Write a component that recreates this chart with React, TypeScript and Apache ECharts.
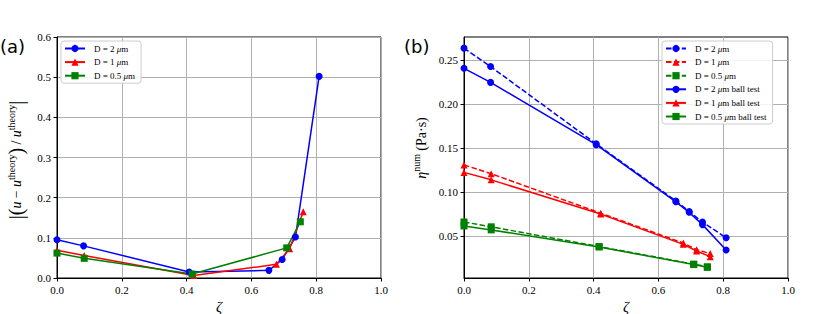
import React, { useEffect, useRef } from 'react';
import * as echarts from 'echarts';

// ---------- data ----------
const xTicks = [0, 0.2, 0.4, 0.6, 0.8, 1.0];
const yTicksA = [0, 0.1, 0.2, 0.3, 0.4, 0.5, 0.6];
const yTicksB = [0.05, 0.1, 0.15, 0.2, 0.25];

const zetaD2 = [0, 0.082, 0.408, 0.654, 0.695, 0.736, 0.809];
const zetaD1 = [0, 0.084, 0.422, 0.677, 0.718, 0.76];
const zetaD05 = [0, 0.084, 0.417, 0.709, 0.751];

// panel (a): relative error
const errD2 = [0.095, 0.08, 0.015, 0.019, 0.046, 0.102, 0.502];
const errD1 = [0.069, 0.056, 0.006, 0.034, 0.073, 0.165];
const errD05 = [0.062, 0.049, 0.01, 0.075, 0.14];

// panel (b): viscosity
const etaD2 = [0.264, 0.243, 0.155, 0.09, 0.078, 0.066, 0.048];
const etaD1 = [0.131, 0.121, 0.076, 0.042, 0.0345, 0.03];
const etaD05 = [0.066, 0.0605, 0.038, 0.018, 0.015];
const etaBallD2 = [0.241, 0.225, 0.154, 0.089, 0.077, 0.063, 0.034];
const etaBallD1 = [0.1225, 0.114, 0.075, 0.0405, 0.033, 0.0265];
const etaBallD05 = [0.0615, 0.057, 0.0375, 0.0175, 0.0143];

const namesA = ['D = 2 μm', 'D = 1 μm', 'D = 0.5 μm'];
const namesB = ['D = 2 μm ', 'D = 1 μm ', 'D = 0.5 μm ', 'D = 2 μm ball test', 'D = 1 μm ball test', 'D = 0.5 μm ball test'];

const BLUE = '#0000ff';
const RED = '#ff0000';
const GREEN = '#008000';
const SERIF = "'Liberation Serif', 'DejaVu Serif', serif";

const zip = (xs: number[], ys: number[]) => xs.map((x, i) => [x, ys[i]]);

function makeSeries(name: string, xi: number, xs: number[], ys: number[], color: string, symbol: string, dashed: boolean) {
  return {
    name,
    type: 'line',
    xAxisIndex: xi,
    yAxisIndex: xi,
    data: zip(xs, ys),
    symbol,
    symbolSize: 7,
    showSymbol: true,
    lineStyle: { color, width: 1.5, type: dashed ? [5.5, 2.4] : 'solid' },
    itemStyle: { color },
    emphasis: { disabled: true },
  };
}

function xAxisOf(gi: number) {
  return {
    gridIndex: gi,
    type: 'value',
    min: xTicks[0],
    max: xTicks[xTicks.length - 1],
    interval: 0.2,
    axisLine: { show: true, onZero: false, lineStyle: { color: '#000', width: 1 } },
    axisTick: { show: true, inside: false, length: 3.5, lineStyle: { color: '#000' } },
    axisLabel: { color: '#000', fontFamily: SERIF, fontSize: 11, margin: 6, formatter: (v: number) => v.toFixed(1) },
    splitLine: { show: true, lineStyle: { color: '#b0b0b0', width: 1 } },
    name: 'ζ',
    nameLocation: 'middle',
    nameGap: 19,
    nameTextStyle: { fontFamily: SERIF, fontStyle: 'italic', fontSize: 15, color: '#000' },
  };
}

const legendRich = {
  i: { fontFamily: SERIF, fontStyle: 'italic', fontSize: 9, color: '#000' },
};

function legendOf(data: string[], left: number, top: number, width: number) {
  return {
    orient: 'vertical',
    left,
    top,
    width,
    data,
    itemWidth: 20,
    itemHeight: 9,
    itemGap: 4.6,
    padding: [3, 6, 3, 3],
    backgroundColor: 'rgba(255,255,255,0.85)',
    borderColor: '#cccccc',
    borderWidth: 1,
    borderRadius: 3,
    selectedMode: false,
    formatter: (n: string) => n.trim().replace('μm', '{i|μ}m'),
    textStyle: { fontFamily: SERIF, fontSize: 9, color: '#000', lineHeight: 9, padding: [0, 0, 0, 4], rich: legendRich },
  };
}

const labelRich = {
  b: { fontFamily: SERIF, fontSize: 20, color: '#000' },
  m: { fontFamily: SERIF, fontSize: 14, fontStyle: 'italic', color: '#000' },
  n: { fontFamily: SERIF, fontSize: 14, color: '#000' },
  s: { fontFamily: SERIF, fontSize: 10, color: '#000', padding: [0, 0, 10, 0] },
};

export default function App() {
  const ref = useRef<HTMLDivElement>(null);
  useEffect(() => {
    if (!ref.current) return;
    const chart = echarts.init(ref.current, null, { renderer: 'svg' });
    chart.setOption({
      animation: false,
      backgroundColor: '#fff',
      grid: [
        { left: 57, top: 37, width: 324, height: 241, outerBoundsMode: 'none', containLabel: false, show: true, borderColor: '#000', borderWidth: 1, backgroundColor: 'transparent' },
        { left: 464, top: 37, width: 324, height: 241, outerBoundsMode: 'none', containLabel: false, show: true, borderColor: '#000', borderWidth: 1, backgroundColor: 'transparent' },
      ],
      xAxis: [xAxisOf(0), xAxisOf(1)],
      yAxis: [
        {
          gridIndex: 0,
          type: 'value',
          min: yTicksA[0],
          max: yTicksA[yTicksA.length - 1],
          interval: 0.1,
          axisLine: { show: true, onZero: false, lineStyle: { color: '#000' } },
          axisTick: { show: true, inside: false, length: 3.5, lineStyle: { color: '#000' } },
          axisLabel: { color: '#000', fontFamily: SERIF, fontSize: 11, margin: 6, formatter: (v: number) => v.toFixed(1) },
          splitLine: { show: true, lineStyle: { color: '#b0b0b0', width: 1 } },
        },
        {
          gridIndex: 1,
          type: 'value',
          min: 0.0022,
          max: 0.2767,
          axisLine: { show: true, onZero: false, lineStyle: { color: '#000' } },
          axisTick: { show: true, inside: false, length: 3.5, lineStyle: { color: '#000' }, customValues: yTicksB },
          axisLabel: { color: '#000', fontFamily: SERIF, fontSize: 11, margin: 6, customValues: yTicksB, formatter: (v: number) => v.toFixed(2) },
          splitLine: { show: true, lineStyle: { color: '#b0b0b0', width: 1 } },
        },
      ],
      legend: [
        legendOf(namesA, 61, 41, 83),
        legendOf(namesB, 662, 41, 112),
      ],
      series: [
        makeSeries(namesA[0], 0, zetaD2, errD2, BLUE, 'circle', false),
        makeSeries(namesA[1], 0, zetaD1, errD1, RED, 'triangle', false),
        makeSeries(namesA[2], 0, zetaD05, errD05, GREEN, 'rect', false),
        makeSeries(namesB[0], 1, zetaD2, etaD2, BLUE, 'circle', true),
        makeSeries(namesB[1], 1, zetaD1, etaD1, RED, 'triangle', true),
        makeSeries(namesB[2], 1, zetaD05, etaD05, GREEN, 'rect', true),
        makeSeries(namesB[3], 1, zetaD2, etaBallD2, BLUE, 'circle', false),
        makeSeries(namesB[4], 1, zetaD1, etaBallD1, RED, 'triangle', false),
        makeSeries(namesB[5], 1, zetaD05, etaBallD05, GREEN, 'rect', false),
      ],
      graphic: [
        { type: 'text', x: 0, y: 46, style: { text: '(a)', fontFamily: 'DejaVu Sans', fontSize: 18, fill: '#000', textAlign: 'left', textVerticalAlign: 'middle' } },
        { type: 'text', x: 404, y: 46, style: { text: '(b)', fontFamily: 'DejaVu Sans', fontSize: 18, fill: '#000', textAlign: 'left', textVerticalAlign: 'middle' } },
        {
          type: 'text', x: 16, y: 160, rotation: Math.PI / 2,
          style: {
            text: '{b||(}{m|u} {n|−} {m|u}{s|theory}{b|)} {n|/} {m|u}{s|theory}{b||}',
            rich: labelRich, textAlign: 'center', textVerticalAlign: 'middle',
          },
        },
        {
          type: 'text', x: 421, y: 148, rotation: Math.PI / 2,
          style: {
            text: '{m|η}{s|num} {n|(Pa·s)}',
            rich: labelRich, textAlign: 'center', textVerticalAlign: 'middle',
          },
        },
      ],
    });
    return () => chart.dispose();
  }, []);
  return <div ref={ref} style={{ position: 'absolute', left: 0, top: 0, width: 830, height: 314 }} />;
}
